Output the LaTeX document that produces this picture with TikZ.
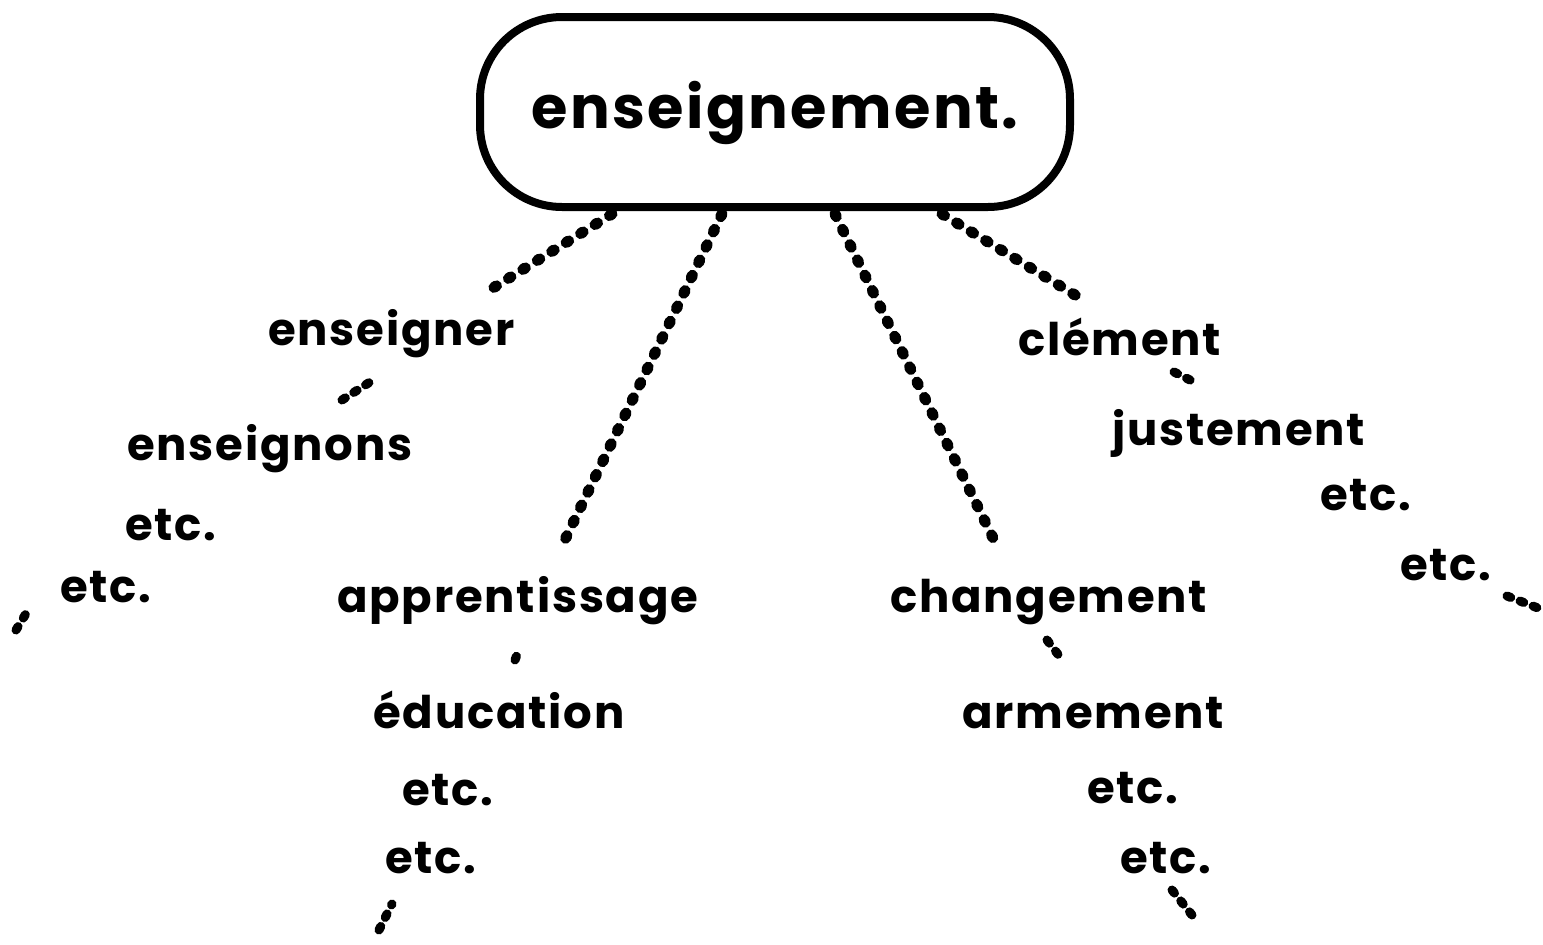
\documentclass[tikz,border=0pt]{standalone}
\usepackage{fontspec}
\setmainfont{Poppins}[LetterSpace=4]
\begin{document}
\begin{tikzpicture}[x=1pt,y=-1pt,
  word/.style={anchor=base west, inner sep=0pt, font=\fontsize{45}{50}\selectfont\bfseries},
  chain/.style={line width=11pt, line cap=round, dash pattern=on 3pt off 14pt},
  frag/.style={line width=9pt, line cap=round, dash pattern=on 4pt off 10pt},
  headbox/.style={draw, line width=8pt, rounded corners=82pt, minimum width=590pt,
    minimum height=190pt, inner sep=0pt, text height=40pt, text depth=8pt,
    font=\fontsize{59}{64}\selectfont\bfseries}
]
\useasboundingbox (0,0) rectangle (1543,945);
\node[headbox] (box) at (775,112) {enseignement.};
% column 1
\node[word] (w1a) at (268,345) {enseigner};
\node[word] (w1b) at (127,460) {enseignons};
\node[word] (w1c) at (125,540) {etc.};
\node[word] (w1d) at (60,602) {etc.};
% column 2
\node[word] (w2a) at (337,612) {apprentissage};
\node[word] (w2b) at (373,728) {éducation};
\node[word] (w2c) at (402,805) {etc.};
\node[word] (w2d) at (385,873) {etc.};
% column 3
\node[word] (w3a) at (890,612) {changement};
\node[word] (w3b) at (962,728) {armement};
\node[word] (w3c) at (1087,803) {etc.};
\node[word] (w3d) at (1120,873) {etc.};
% column 4
\node[word] (w4a) at (1018,355) {clément};
\node[word] (w4b) at (1112,445) {justement};
\node[word] (w4c) at (1320,510) {etc.};
\node[word] (w4d) at (1400,580) {etc.};
% chain coordinates
\coordinate (s1) at (612,214);
\coordinate (e1) at (485,293);
\coordinate (s2) at (722,214);
\coordinate (e2) at (560,550);
\coordinate (s3) at (835,214);
\coordinate (e3) at (995,542);
\coordinate (s4) at (942,214);
\coordinate (e4) at (1080,298);
\draw[chain] (s1) -- (e1);
\draw[chain] (s2) -- (e2);
\draw[chain] (s3) -- (e3);
\draw[chain] (s4) -- (e4);
% fragments
\coordinate (f1a) at (342,400); \coordinate (f1b) at (370,382);
\coordinate (f2a) at (16,630);  \coordinate (f2b) at (30,607);
\coordinate (f3a) at (515,660); \coordinate (f3b) at (518,652);
\coordinate (f4a) at (379,930); \coordinate (f4b) at (392,904);
\coordinate (f5a) at (1047,640); \coordinate (f5b) at (1060,657);
\coordinate (f6a) at (1172,890); \coordinate (f6b) at (1196,920);
\coordinate (f7a) at (1174,372); \coordinate (f7b) at (1198,384);
\coordinate (f8a) at (1507,596); \coordinate (f8b) at (1543,610);
\draw[frag] (f1a) -- (f1b);
\draw[frag] (f2a) -- (f2b);
\draw[frag] (f3a) -- (f3b);
\draw[frag] (f4a) -- (f4b);
\draw[frag] (f5a) -- (f5b);
\draw[frag] (f6a) -- (f6b);
\draw[frag] (f7a) -- (f7b);
\draw[frag] (f8a) -- (f8b);
\end{tikzpicture}
\end{document}
